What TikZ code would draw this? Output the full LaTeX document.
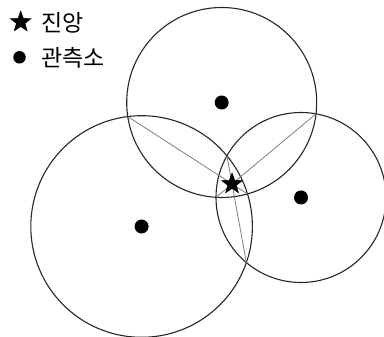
\documentclass[tikz,border=0pt]{standalone}
\usepackage{fontspec}
\newfontfamily\krfont{Noto Sans CJK KR}
\usetikzlibrary{shapes.geometric,intersections}
\tikzset{
  ring/.style={draw=black!85, line width=1.1pt},
  chord/.style={draw=black!50, line width=0.8pt},
  station/.style={circle, fill=black, inner sep=0pt, minimum size=14pt},
  epi/.style={star, star points=5, star point ratio=2.4, fill=black, draw=black, line width=0.4pt, inner sep=0pt, minimum size=22pt},
  legtext/.style={anchor=west, inner sep=0pt, font=\krfont\fontsize{23pt}{27pt}\selectfont}
}
\begin{document}
\begin{tikzpicture}[x=1pt,y=1pt]
\useasboundingbox (0,0) rectangle (384,337);
\fill[white] (0,0) rectangle (384,337);
% centers
\coordinate (cA) at (221.7,234.5);
\coordinate (cB) at (141.6,110.5);
\coordinate (cC) at (301,139.5);
% circles
\path[ring, name path=A] (cA) circle[radius=95];
\path[ring, name path=B] (cB) circle[radius=110.8];
\path[ring, name path=C] (cC) circle[radius=85];
% common chords
\path[name intersections={of=A and B, name=ab}];
\path[name intersections={of=A and C, name=ac}];
\path[name intersections={of=B and C, name=bc}];
\draw[chord] (ab-1) -- (ab-2);
\draw[chord] (ac-1) -- (ac-2);
\draw[chord] (bc-1) -- (bc-2);
% stations
\node[station] (sA) at (cA) {};
\node[station] (sB) at (cB) {};
\node[station] (sC) at (cC) {};
% epicenter
\node[epi] (ep) at (intersection of ab-1--ab-2 and ac-1--ac-2) {};
% legend
\node[epi] (lstar) at (20.7,315) {};
\node[station, minimum size=12.5pt] (ldot) at (19.5,279.7) {};
\node[legtext] (lt1) at (41,314) {진앙};
\node[legtext] (lt2) at (41,279) {관측소};
\end{tikzpicture}
\end{document}
